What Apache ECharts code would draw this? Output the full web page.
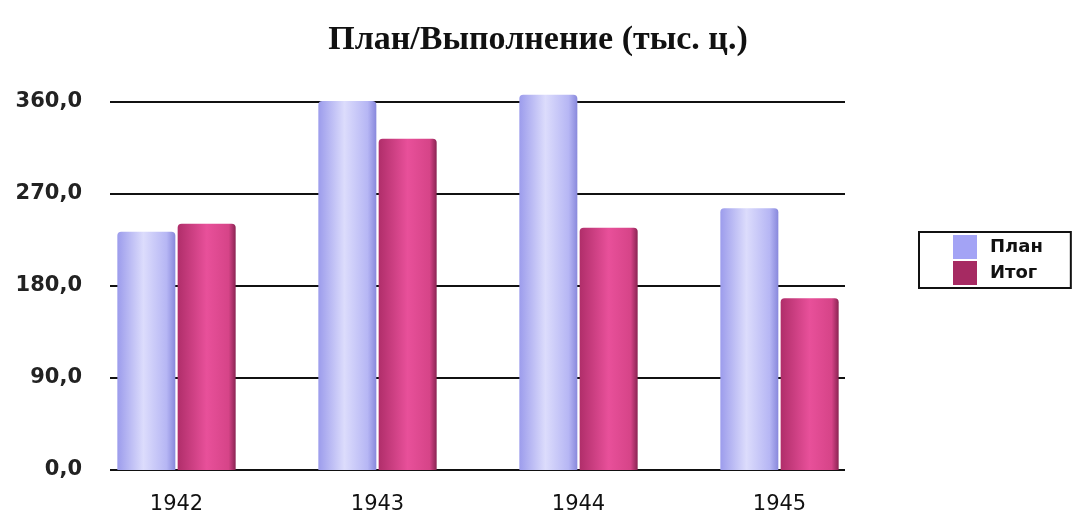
<!DOCTYPE html>
<html>
<head>
<meta charset="utf-8">
<script src="https://cdn.jsdelivr.net/npm/echarts@6/dist/echarts.min.js"></script>
<style>
  html, body { margin: 0; padding: 0; background: #fff; }
  #chart { width: 1076px; height: 514px; }
</style>
</head>
<body>
<div id="chart"></div>
<script>
  // данные
  const years = ['1942', '1943', '1944', '1945'];
  const planValues = [233, 361, 367, 256];
  const itogValues = [241, 324, 237, 168];
  const yTicks = [0, 90, 180, 270, 360];

  const planColor = new echarts.graphic.LinearGradient(0, 0, 1, 0, [
    {offset: 0, color: '#9c9cec'},
    {offset: 0.45, color: '#dcdcfc'},
    {offset: 0.85, color: '#b6b6f4'},
    {offset: 1, color: '#8888dc'}
  ]);
  const itogColor = new echarts.graphic.LinearGradient(0, 0, 1, 0, [
    {offset: 0, color: '#b02e6a'},
    {offset: 0.5, color: '#e8509a'},
    {offset: 0.88, color: '#d64488'},
    {offset: 1, color: '#8a2452'}
  ]);

  let myChart = echarts.init(document.getElementById('chart'));
  myChart.setOption({
    animation: false,
    title: {
      text: 'План/Выполнение (тыс. ц.)',
      left: 'center',
      top: 18,
      textStyle: {fontFamily: 'Liberation Serif', fontWeight: 'bold', fontSize: 34, color: '#111'}
    },
    legend: {
      orient: 'vertical',
      left: 919,
      top: 232,
      padding: [3, 28, 3, 34],
      borderColor: '#111',
      borderWidth: 2,
      itemWidth: 24,
      itemHeight: 24,
      itemGap: 2,
      icon: 'rect',
      textStyle: {fontFamily: 'DejaVu Sans', fontWeight: 'bold', fontSize: 18, color: '#111', padding: [0, 0, 0, 8]},
      data: [
        {name: 'План', itemStyle: {color: '#a3a3f5'}},
        {name: 'Итог', itemStyle: {color: '#a62a62'}}
      ]
    },
    grid: [
      // сетка и подписи оси
      {left: 110, right: 231, top: 102, bottom: 44, outerBoundsMode: 'none'},
      // столбцы
      {left: 76, right: 196, top: 102, bottom: 44, outerBoundsMode: 'none'}
    ],
    xAxis: [
      {type: 'category', gridIndex: 0, data: years, show: false},
      {
        type: 'category', gridIndex: 1, data: years,
        axisLine: {show: false}, axisTick: {show: false},
        axisLabel: {margin: 24, fontFamily: 'DejaVu Sans', fontSize: 21, color: '#111'}
      }
    ],
    yAxis: [
      {
        type: 'value', gridIndex: 0, min: 0, max: 360, interval: 90,
        axisLine: {show: false}, axisTick: {show: false},
        splitLine: {show: true, lineStyle: {color: '#111', width: 2}},
        axisLabel: {
          margin: 28, fontFamily: 'DejaVu Sans', fontWeight: 'bold', fontSize: 21, color: '#222',
          formatter: function (v) { return yTicks.indexOf(v) >= 0 ? v.toFixed(1).replace('.', ',') : ''; }
        }
      },
      {type: 'value', gridIndex: 1, min: 0, max: 360, interval: 90, show: false, splitLine: {show: false}}
    ],
    series: [
      {
        name: 'План', type: 'bar', xAxisIndex: 1, yAxisIndex: 1,
        data: planValues, barWidth: 58, barGap: '4%', clip: false,
        itemStyle: {color: planColor, borderRadius: [4, 4, 0, 0]}
      },
      {
        name: 'Итог', type: 'bar', xAxisIndex: 1, yAxisIndex: 1,
        data: itogValues, barWidth: 58, barGap: '4%', clip: false,
        itemStyle: {color: itogColor, borderRadius: [4, 4, 0, 0]}
      }
    ]
  });
</script>
</body>
</html>
